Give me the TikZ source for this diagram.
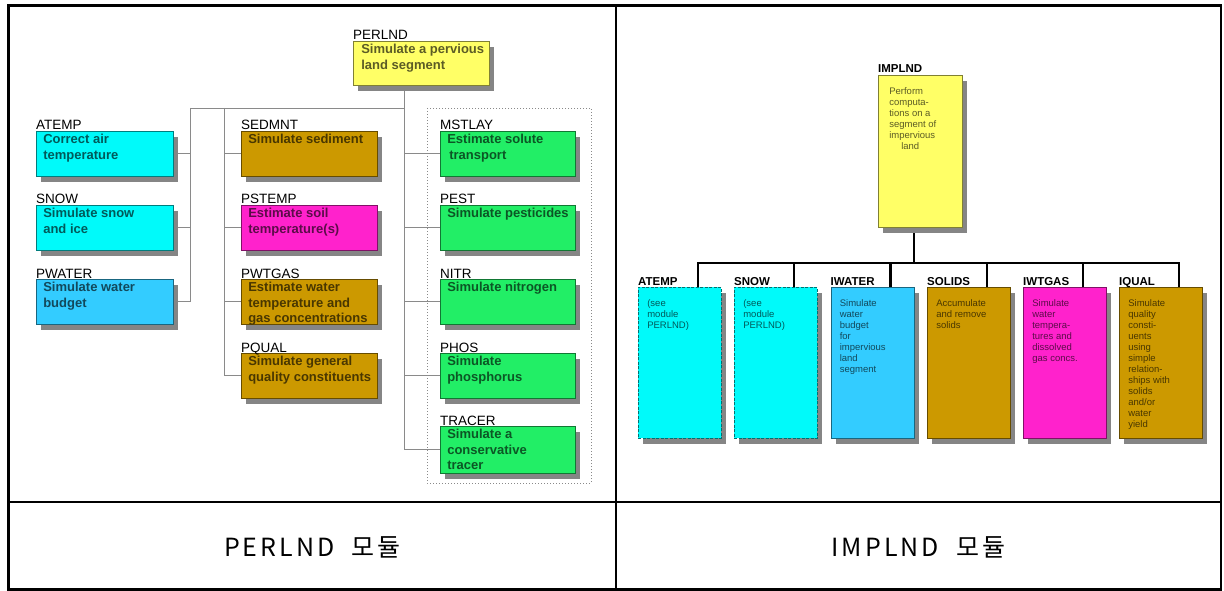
\documentclass[tikz,border=0pt]{standalone}
\usepackage{fontspec}
\setmainfont{Liberation Sans}
\newfontfamily\krfont[LetterSpace=12]{Noto Sans CJK KR}
\usetikzlibrary{shadows}

\definecolor{cyanbox}{HTML}{00FAFA}
\definecolor{bluebox}{HTML}{33CCFF}
\definecolor{orangebox}{HTML}{CC9900}
\definecolor{magbox}{HTML}{FF22CC}
\definecolor{greenbox}{HTML}{22EE66}
\definecolor{yellowbox}{HTML}{FFFF66}
\definecolor{shadowgrey}{HTML}{858585}
\definecolor{linegrey}{HTML}{8A8A8A}

% fixed-size text block: width, height, left margin, text (top aligned)
\newcommand\boxtxt[4]{\parbox[c][#2][t]{#1}{\leftskip=#3\rightskip=0pt plus 1fil\parfillskip=0pt #4}}

\pgfdeclarelayer{wires}
\pgfsetlayers{wires,main}

\begin{document}
\begin{tikzpicture}[x=1pt,y=-1pt,
  modbox/.style={draw=#1!50!black, line width=0.6pt, fill=#1, anchor=north west,
    text=#1!36!black, inner xsep=0pt,
    drop shadow={shadow xshift=5pt, shadow yshift=-6pt, fill=shadowgrey, opacity=1}},
  lbox/.style={modbox=#1, inner ysep=3pt,
    font=\fontsize{13}{15.5}\selectfont\bfseries},
  rbox/.style={modbox=#1, inner ysep=12pt,
    font=\fontsize{9.5}{11}\selectfont},
  dashbox/.style={dash pattern=on 3pt off 1.5pt, draw=cyanbox!45!black},
  llabel/.style={anchor=base west, inner sep=0pt, font=\fontsize{13.5}{14}\selectfont},
  rlabel/.style={anchor=base west, inner sep=0pt, font=\fontsize{11.5}{12}\selectfont\bfseries},
  wire/.style={draw=linegrey, line width=0.9pt},
  bus/.style={draw=black, line width=2.6pt},
  caption/.style={font=\krfont\fontsize{25}{28}\selectfont}
]
\useasboundingbox (0,0) rectangle (1224,591);

% ---------- PERLND module ----------
\node[lbox=yellowbox] (perlnd) at (353,41)
  {\boxtxt{136pt}{38pt}{8pt}{Simulate a pervious\\land segment}};

\node[lbox=cyanbox] (atemp)  at (36,131) {\boxtxt{137pt}{39pt}{7pt}{Correct air\\temperature}};
\node[lbox=cyanbox] (snow)   at (36,205) {\boxtxt{137pt}{39pt}{7pt}{Simulate snow\\and ice}};
\node[lbox=bluebox] (pwater) at (36,279) {\boxtxt{137pt}{39pt}{7pt}{Simulate water\\budget}};

\node[lbox=orangebox] (sedmnt) at (241,131) {\boxtxt{136pt}{39pt}{7pt}{Simulate sediment}};
\node[lbox=magbox]    (pstemp) at (241,205) {\boxtxt{136pt}{39pt}{7pt}{Estimate soil\\temperature(s)}};
\node[lbox=orangebox] (pwtgas) at (241,279) {\boxtxt{136pt}{39pt}{7pt}{Estimate water\\temperature and\\gas concentrations}};
\node[lbox=orangebox] (pqual)  at (241,353) {\boxtxt{136pt}{39pt}{7pt}{Simulate general\\quality constituents}};

\node[lbox=greenbox] (mstlay) at (440,131) {\boxtxt{135pt}{39pt}{7pt}{Estimate solute\\\hspace*{2pt}transport}};
\node[lbox=greenbox] (pest)   at (440,205) {\boxtxt{135pt}{39pt}{7pt}{Simulate pesticides}};
\node[lbox=greenbox] (nitr)   at (440,279) {\boxtxt{135pt}{39pt}{7pt}{Simulate nitrogen}};
\node[lbox=greenbox] (phos)   at (440,353) {\boxtxt{135pt}{39pt}{7pt}{Simulate\\phosphorus}};
\node[lbox=greenbox] (tracer) at (440,426) {\boxtxt{135pt}{41pt}{7pt}{Simulate a\\conservative\\tracer}};

\foreach \b/\t in {perlnd/PERLND, atemp/ATEMP, snow/SNOW, pwater/PWATER,
                   sedmnt/SEDMNT, pstemp/PSTEMP, pwtgas/PWTGAS, pqual/PQUAL,
                   mstlay/MSTLAY, pest/PEST, nitr/NITR, phos/PHOS, tracer/TRACER}
  \node[llabel] (\b-name) at ([yshift=1pt]\b.north west) {\t};

% dotted frame round the solute group
\draw[linegrey, line width=0.8pt, dash pattern=on 1pt off 2pt] (427,108) rectangle (591,483);

\coordinate (busL) at (190,108);
\coordinate (busM) at (224,108);
\coordinate (busR) at (404,108);

\begin{pgfonlayer}{wires}
  \draw[wire] (busL) -- (busR);
  \draw[wire] (perlnd.south -| busR) -- (busR |- tracer.west) -- (tracer.west);
  \draw[wire] (busL) -- (busL |- pwater.east) -- (pwater.east);
  \draw[wire] (busM) -- (busM |- pqual.west) -- (pqual.west);
  \foreach \b in {atemp, snow}
    \draw[wire] (\b.east) -- (\b.east -| busL);
  \foreach \b in {sedmnt, pstemp, pwtgas}
    \draw[wire] (\b.west -| busM) -- (\b.west);
  \foreach \b in {mstlay, pest, nitr, phos}
    \draw[wire] (\b.west -| busR) -- (\b.west);
\end{pgfonlayer}

% ---------- IMPLND module ----------
\node[rbox=yellowbox] (implnd) at (878,75)
  {\boxtxt{84pt}{128pt}{11pt}{Perform\\computa-\\tions on a\\segment of\\impervious\\\hspace*{12pt}land}};
\node[rlabel] (implnd-name) at ([yshift=2pt]implnd.north west) {IMPLND};

\node[rbox=cyanbox, dashbox] (iatemp) at (638,287)
  {\boxtxt{83pt}{127pt}{9pt}{(see\\module\\PERLND)}};
\node[rbox=cyanbox, dashbox] (isnow) at (734,287)
  {\boxtxt{83pt}{127pt}{9pt}{(see\\module\\PERLND)}};
\node[rbox=bluebox] (iwater) at (830.5,287)
  {\boxtxt{83pt}{127pt}{9pt}{Simulate\\water\\budget\\for\\impervious\\land\\segment}};
\node[rbox=orangebox] (solids) at (927,287)
  {\boxtxt{83pt}{127pt}{9pt}{Accumulate\\and remove\\solids}};
\node[rbox=magbox] (iwtgas) at (1023,287)
  {\boxtxt{83pt}{127pt}{9pt}{Simulate\\water\\tempera-\\tures and\\dissolved\\gas concs.}};
\node[rbox=orangebox] (iqual) at (1119,287)
  {\boxtxt{83pt}{127pt}{9pt}{Simulate\\quality\\consti-\\uents\\using\\simple\\relation-\\ships with\\solids\\and/or\\water\\yield}};

\foreach \b/\t in {iatemp/ATEMP, isnow/SNOW, iwater/IWATER,
                   solids/SOLIDS, iwtgas/IWTGAS, iqual/IQUAL}
  \node[rlabel] (\b-name) at ([yshift=2pt]\b.north west) {\t};

\coordinate (ibus) at (914,263);
\foreach \b [count=\i] in {iatemp, isnow, iwater, solids, iwtgas, iqual}
  \coordinate (drop\i) at ([xshift=60pt]\b.north west);

\begin{pgfonlayer}{wires}
  \draw[bus] (implnd.south -| ibus) -- (ibus);
  \draw[bus] (drop1) -- (drop1 |- ibus) -- (drop6 |- ibus) -- (drop6);
  \foreach \i in {2,...,5}
    \draw[bus] (drop\i |- ibus) -- (drop\i);
\end{pgfonlayer}

% ---------- table frame and captions ----------
\draw[line width=1.5pt] (8.5,502) -- (1221,502);
\draw[line width=1.5pt] (616,5.5) -- (616,589.5);
\draw[line width=2.6pt] (8.5,5.5) rectangle (1221,589.5);

\node[caption] (perlnd-cap) at (312.5,547) {PERLND\hspace{9pt} 모듈};
\node[caption] (implnd-cap) at (918.5,547) {IMPLND\hspace{9pt} 모듈};
\end{tikzpicture}
\end{document}
